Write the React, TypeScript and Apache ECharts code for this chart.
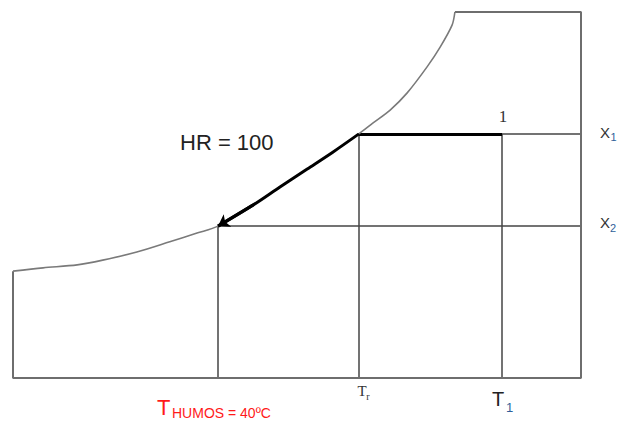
import React, { useEffect, useRef } from "react";
import * as echarts from "echarts";

// Saturation curve (HR = 100): dry-bulb temperature vs absolute humidity (chart units)
const satT = [0, 5.3, 11.3, 15.8, 21.8, 27.6, 32.4, 36.1, 42.3, 47.0, 51.8, 56.3, 60.9, 63.4, 66.4, 69.4, 72.9, 75.2, 77.3, 77.8];
const satX = [29.2, 30.1, 30.9, 32.2, 34.4, 37.2, 39.6, 41.5, 47.3, 52.2, 57.1, 61.7, 66.7, 69.7, 73.2, 77.9, 85.0, 90.4, 96.4, 100];

// Key states
const T_HUMOS = 36.1;
const T_R = 60.9;
const T_1 = 86.1;
const X_1 = 66.7;
const X_2 = 41.5;

// Chart limits
const T_MIN = 0;
const T_MAX = 100;
const X_MIN = 0;
const X_MAX = 100;

export default function App() {
  const ref = useRef<HTMLDivElement>(null);
  useEffect(() => {
    if (!ref.current) return;
    const chart = echarts.init(ref.current, undefined, { renderer: "svg" });
    const sat = satT.map((t, i) => [t, satX[i]]);
    const top = sat[sat.length - 1];
    const frame = [top, [T_MAX, X_MAX], [T_MAX, X_MIN], [T_MIN, X_MIN], sat[0]];
    const arrowPts = sat.filter((p) => p[0] >= T_HUMOS && p[0] <= T_R).reverse();
    const n = arrowPts.length;

    const thin = [
      { coords: [[T_R, X_1], [T_MAX, X_1]] },
      { coords: [[T_HUMOS, X_2], [T_MAX, X_2]] },
      { coords: [[T_HUMOS, X_MIN], [T_HUMOS, X_2]] },
      { coords: [[T_R, X_MIN], [T_R, X_1]] },
      { coords: [[T_1, X_MIN], [T_1, X_1]] },
    ];

    const sans = "Liberation Sans, Arial, sans-serif";
    const serif = "Liberation Serif, Times New Roman, serif";
    const txt = (text: string, x: number, y: number, size: number, fill: string, family = sans, align = "left") => ({
      type: "text",
      x,
      y,
      silent: true,
      style: {
        text,
        font: `${size}px ${family}`,
        fill,
        textAlign: align,
        textVerticalAlign: "middle",
      },
    });

    chart.setOption({
      animation: false,
      grid: { left: 13, right: 39, top: 12, bottom: 46 },
      xAxis: { type: "value", min: T_MIN, max: T_MAX, show: false },
      yAxis: { type: "value", min: X_MIN, max: X_MAX, show: false },
      series: [
        {
          type: "line",
          data: frame,
          symbol: "none",
          silent: true,
          lineStyle: { color: "#6e6e6e", width: 2 },
        },
        {
          type: "line",
          data: sat,
          symbol: "none",
          smooth: 0.3,
          silent: true,
          lineStyle: { color: "#7a7a7a", width: 1.6 },
        },
        {
          type: "lines",
          coordinateSystem: "cartesian2d",
          data: thin,
          silent: true,
          lineStyle: { color: "#444", width: 1.5, opacity: 1 },
        },
        {
          type: "lines",
          coordinateSystem: "cartesian2d",
          data: [{ coords: [[T_R, X_1], [T_1, X_1]] }],
          silent: true,
          lineStyle: { color: "#000", width: 3, opacity: 1 },
        },
        {
          type: "line",
          data: arrowPts,
          symbol: "none",
          smooth: 0.3,
          silent: true,
          lineStyle: { color: "#000", width: 3 },
        },
        {
          type: "lines",
          coordinateSystem: "cartesian2d",
          data: [{ coords: [arrowPts[n - 2], arrowPts[n - 1]] }],
          symbol: ["none", "arrow"],
          symbolSize: 11,
          silent: true,
          lineStyle: { color: "#000", width: 3, opacity: 1 },
        },
      ],
      graphic: [
        txt("HR = 100", 180, 142, 22, "#222"),
        txt("1", 503, 116, 17, "#333", serif, "center"),
        txt("X", 600, 132, 15, "#333"),
        txt("1", 610.5, 137, 11, "#2f5f9a"),
        txt("X", 600, 222.5, 15, "#333"),
        txt("2", 610, 227.5, 11, "#2f5f9a"),
        txt("T", 362, 391, 15, "#333", serif, "center"),
        txt("r", 368, 396, 10, "#333", serif, "center"),
        txt("T", 492, 399, 20, "#222"),
        txt("1", 506, 407, 13, "#2f5f9a"),
        txt("T", 157, 407.5, 22, "#ff1a1a"),
        txt("HUMOS = 40ºC", 172, 412.5, 14, "#ff1a1a"),
      ],
    });
    return () => chart.dispose();
  }, []);
  return <div ref={ref} style={{ position: "fixed", left: 0, top: 0, width: 620, height: 424, background: "#fff" }} />;
}
